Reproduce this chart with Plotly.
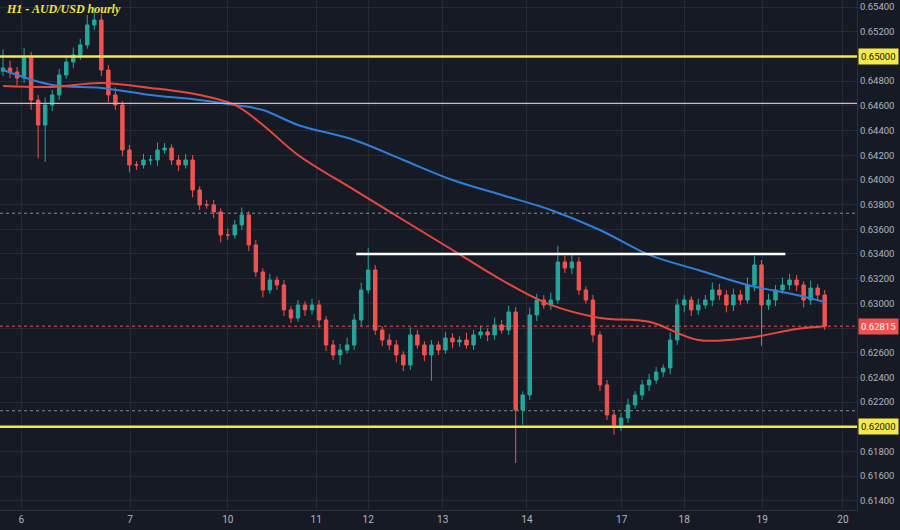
import plotly.graph_objects as go

closes = [0.64906,0.64874,0.64825,0.64987,0.64647,0.64445,0.64607,0.64688,0.64850,0.64955,
0.65012,0.65093,0.65255,0.65295,0.64890,0.64688,0.64607,0.64242,0.64121,0.64121,
0.64161,0.64161,0.64242,0.64258,0.64161,0.64121,0.64161,0.63918,0.63797,0.63797,
0.63740,0.63554,0.63554,0.63635,0.63716,0.63473,0.63254,0.63108,0.63189,0.63149,
0.62947,0.62881,0.62987,0.62947,0.62987,0.62865,0.62663,0.62582,0.62622,0.62663,
0.62865,0.63108,0.63270,0.62784,0.62703,0.62663,0.62582,0.62501,0.62744,0.62663,
0.62582,0.62663,0.62622,0.62719,0.62687,0.62703,0.62663,0.62744,0.62768,0.62744,
0.62825,0.62784,0.62930,0.62136,0.62258,0.62906,0.63027,0.62987,0.63027,0.63335,
0.63286,0.63335,0.63108,0.63027,0.62744,0.62339,0.62096,0.62015,0.62071,0.62177,
0.62258,0.62339,0.62379,0.62444,0.62476,0.62703,0.62987,0.63027,0.62947,0.62987,
0.63027,0.63108,0.63068,0.62987,0.63068,0.63027,0.63149,0.63311,0.62987,0.63027,
0.63108,0.63149,0.63189,0.63149,0.63027,0.63124,0.63068,0.62815]
first_open = 0.64880
upper_wick_pips = [15,6,4,8,5,4,6,4,5,4, 6,5,8,10,5,4,6,3,4,3, 5,4,6,4,3,4,5,4,3,4,
4,3,5,4,6,3,4,3,5,3, 4,3,4,3,5,4,3,4,5,6, 5,6,18,4,3,5,4,3,6,4, 3,4,3,5,4,3,6,4,5,3,
6,4,5,4,3,6,5,4,6,13, 5,6,4,3,4,3,4,3,4,5, 3,4,5,4,3,6,5,4,3,5, 4,6,5,4,5,4,6,7,4,5,
4,6,5,4,3,6,3,4]
lower_wick_pips = [4,5,6,4,8,27,30,5,4,3, 5,4,3,4,5,6,4,5,6,4, 3,4,5,3,4,5,3,6,4,3,
5,6,4,3,4,5,4,6,3,4, 5,4,3,5,4,6,5,4,8,3, 4,5,3,4,5,4,6,5,4,3, 5,21,4,3,5,4,3,4,3,5,
4,3,4,43,12,4,5,3,4,3, 4,5,4,3,6,5,4,8,5,4, 3,4,5,3,4,5,4,6,5,4, 3,5,4,6,5,4,3,5,33,4,
5,3,4,5,6,4,5,3]

ma_idx = [0,7,14,21,28,33,37,42,50,57,64,71,78,85,92,99,106,113,117]
ma_blue = [0.64890,0.64769,0.64745,0.64688,0.64647,0.64607,0.64566,0.64445,0.64323,0.64161,
0.63999,0.63878,0.63756,0.63594,0.63392,0.63270,0.63149,0.63068,0.63011]
ma_red = [0.64761,0.64753,0.64785,0.64745,0.64688,0.64607,0.64445,0.64202,0.63919,0.63675,
0.63432,0.63189,0.62987,0.62882,0.62850,0.62703,0.62719,0.62793,0.62815]

x_tick_pos = [2.6,18.1,32,44.6,52,62.6,74.6,88.1,97,108.1,119.6]
x_tick_text = ["6","7","10","11","12","13","14","17","18","19","20"]

level_yellow = [0.65000, 0.62000]
level_pink = 0.64620
level_dotted = [0.63730, 0.62130]
last_price = 0.62815
resistance = 0.63400
res_range = [50.3, 111.4]

idx = list(range(len(closes)))
opens = [first_open] + closes[:-1]
highs = [max(o, c) + w/10000 for o, c, w in zip(opens, closes, upper_wick_pips)]
lows = [min(o, c) - w/10000 for o, c, w in zip(opens, closes, lower_wick_pips)]

bg = "#161a25"
fig = go.Figure()
fig.add_trace(go.Candlestick(x=idx, open=opens, high=highs, low=lows, close=closes,
    increasing=dict(line=dict(color="#26a69a", width=1), fillcolor="#26a69a"),
    decreasing=dict(line=dict(color="#ef5350", width=1), fillcolor="#ef5350"),
    whiskerwidth=0, showlegend=False))
fig.add_trace(go.Scatter(x=ma_idx, y=ma_blue, mode="lines", line=dict(color="#2f7fd8", width=2, shape="spline"), showlegend=False))
fig.add_trace(go.Scatter(x=ma_idx, y=ma_red, mode="lines", line=dict(color="#e8473f", width=2, shape="spline"), showlegend=False))

for lv in level_yellow:
    fig.add_hline(y=lv, line=dict(color="#f5e84a", width=2.5))
fig.add_hline(y=level_pink, line=dict(color="#d8b8bc", width=1.2))
for lv in level_dotted:
    fig.add_hline(y=lv, line=dict(color="#8a8d96", width=1, dash="dot"))
fig.add_hline(y=last_price, line=dict(color="#ef5350", width=1, dash="dot"))
fig.add_trace(go.Scatter(x=res_range, y=[resistance, resistance], mode="lines",
    line=dict(color="#ffffff", width=2.5), showlegend=False))

for lv in level_yellow:
    fig.add_annotation(x=1, xref="paper", y=lv, text=f"{lv:.5f}", showarrow=False, xanchor="left",
        bgcolor="#f5e84a", font=dict(color="#131722", size=9.5, family="Roboto"), xshift=1, borderpad=2)
fig.add_annotation(x=1, xref="paper", y=last_price, text=f"{last_price:.5f}", showarrow=False, xanchor="left",
    bgcolor="#ef5350", font=dict(color="#ffffff", size=9.5, family="Roboto"), xshift=1, borderpad=2)
fig.add_annotation(x=0.005, xref="paper", y=1, yref="paper", text="<b><i>H1 - AUD/USD hourly</i></b>",
    showarrow=False, xanchor="left", yanchor="top", font=dict(color="#f0e442", size=12, family="Liberation Serif"))

ytv = [0.614 + 0.002*k for k in range(21)]
ytt = ["" if abs(v-0.650) < 1e-6 or abs(v-0.620) < 1e-6 else f"{v:.5f}" for v in ytv]
fig.update_layout(width=900, height=530, margin=dict(l=0, r=43, t=0, b=20, autoexpand=False),
    paper_bgcolor=bg, plot_bgcolor=bg,
    xaxis=dict(range=[-0.43, 121.6], tickvals=x_tick_pos, ticktext=x_tick_text, showgrid=True,
        gridcolor="#262a35", zeroline=False, rangeslider=dict(visible=False), ticks="", automargin=False,
        tickfont=dict(color="#b2b5be", size=10, family="Roboto"), showline=True, linecolor="#2a2e39"),
    yaxis=dict(range=[0.61326, 0.65457], side="right", tickvals=ytv, ticktext=ytt, automargin=False,
        showgrid=True, gridcolor="#262a35", zeroline=False, ticks="",
        tickfont=dict(color="#b2b5be", size=9.5, family="Roboto"), showline=True, linecolor="#2a2e39"))
fig.write_html("out.html", config={"displayModeBar": False},
    post_script="document.body.style.margin='0';document.body.style.background='#161a25';")
